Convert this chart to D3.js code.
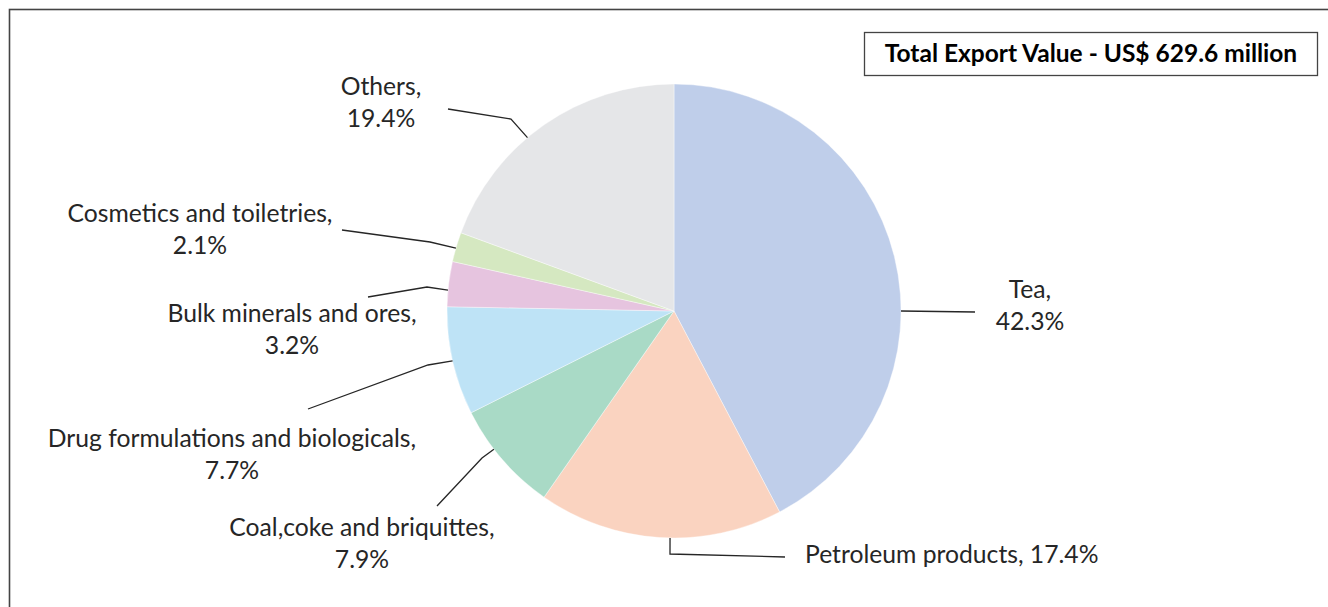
<!DOCTYPE html>
<html>
<head>
<meta charset="utf-8">
<script src="https://cdn.jsdelivr.net/npm/d3@7"></script>
<style>
  html, body { margin: 0; padding: 0; background: #fff; }
  svg { display: block; }
  text { font-family: Lato, "Open Sans", sans-serif; fill: #262626; }
</style>
</head>
<body>
<svg id="chart" width="1328" height="607"></svg>
<script>
// ---- Data ----
const categories = [
  "Tea",
  "Petroleum products",
  "Coal,coke and briquittes",
  "Drug formulations and biologicals",
  "Bulk minerals and ores",
  "Cosmetics and toiletries",
  "Others"
];
const shares = [42.3, 17.4, 7.9, 7.7, 3.2, 2.1, 19.4];
const colors = ["#BFCEEA", "#FAD3C0", "#A9DAC6", "#BEE3F6", "#E6C4DF", "#D5E8C1", "#E5E6E8"];
const titleText = "Total Export Value - US$ 629.6 million";

// ---- Layout (label placement, not data) ----
const W = 1328, H = 607;
const cx = 674, cy = 311, R = 227;
const labelLayout = [
  { start: 90,    elbow: null,       end: [975, 312], tx: 1030, ty: 298, oneLine: false },
  { start: 181,   elbow: [670, 554], end: [785, 557], tx: 805,  ty: 563, oneLine: true },
  { start: 232.5, elbow: [482, 458], end: [437, 506], tx: 362,  ty: 536, oneLine: false },
  { start: 257.3, elbow: [428, 365], end: [308, 409], tx: 232,  ty: 447, oneLine: false },
  { start: 275.3, elbow: [427, 287], end: [368, 297], tx: 292,  ty: 322, oneLine: false },
  { start: 286.1, elbow: [430, 242], end: [342, 230], tx: 200,  ty: 222, oneLine: false },
  { start: 319.8, elbow: [511, 119], end: [448, 109], tx: 381,  ty: 95,  oneLine: false }
];
const lineGap = 32;
const fontSize = 24.7;

const svg = d3.select("#chart");

// outer frame
svg.append("rect")
  .attr("x", 9.5).attr("y", 9.5)
  .attr("width", W + 20).attr("height", H + 20)
  .attr("fill", "none").attr("stroke", "#444").attr("stroke-width", 1.6);

const data = categories.map((c, i) => ({ name: c, value: shares[i], color: colors[i], layout: labelLayout[i] }));

const pie = d3.pie().value(d => d.value).sort(null);
const arc = d3.arc().innerRadius(0).outerRadius(R);

const g = svg.append("g").attr("transform", `translate(${cx},${cy})`);
g.selectAll("path.slice")
  .data(pie(data))
  .join("path")
  .attr("class", "slice")
  .attr("d", arc)
  .attr("fill", d => d.data.color)
  .attr("stroke", "#ffffff")
  .attr("stroke-width", 0.4);

// leader lines
const pt = a => {
  const r = a * Math.PI / 180;
  return [cx + R * Math.sin(r), cy - R * Math.cos(r)];
};
const lineGen = d3.line();
svg.selectAll("path.leader")
  .data(data)
  .join("path")
  .attr("class", "leader")
  .attr("d", d => {
    const L = d.layout;
    const pts = [pt(L.start)];
    if (L.elbow) pts.push(L.elbow);
    pts.push(L.end);
    return lineGen(pts);
  })
  .attr("fill", "none")
  .attr("stroke", "#262626")
  .attr("stroke-width", 1.3);

// labels
data.forEach(d => {
  const L = d.layout;
  if (L.oneLine) {
    svg.append("text")
      .attr("x", L.tx).attr("y", L.ty)
      .attr("font-size", fontSize)
      .attr("text-anchor", "start")
      .text(`${d.name}, ${d.value.toFixed(1)}%`);
  } else {
    const t = svg.append("text")
      .attr("x", L.tx).attr("y", L.ty)
      .attr("font-size", fontSize)
      .attr("text-anchor", "middle");
    t.append("tspan").attr("x", L.tx).attr("y", L.ty).text(`${d.name},`);
    t.append("tspan").attr("x", L.tx).attr("y", L.ty + lineGap).text(`${d.value.toFixed(1)}%`);
  }
});

// title box
svg.append("rect")
  .attr("x", 864.5).attr("y", 32.5)
  .attr("width", 453).attr("height", 43)
  .attr("fill", "#fff").attr("stroke", "#444").attr("stroke-width", 1.3);
svg.append("text")
  .attr("x", 1091).attr("y", 62)
  .attr("text-anchor", "middle")
  .attr("font-size", 24.5)
  .attr("font-weight", "bold")
  .style("fill", "#000")
  .text(titleText);
</script>
</body>
</html>
